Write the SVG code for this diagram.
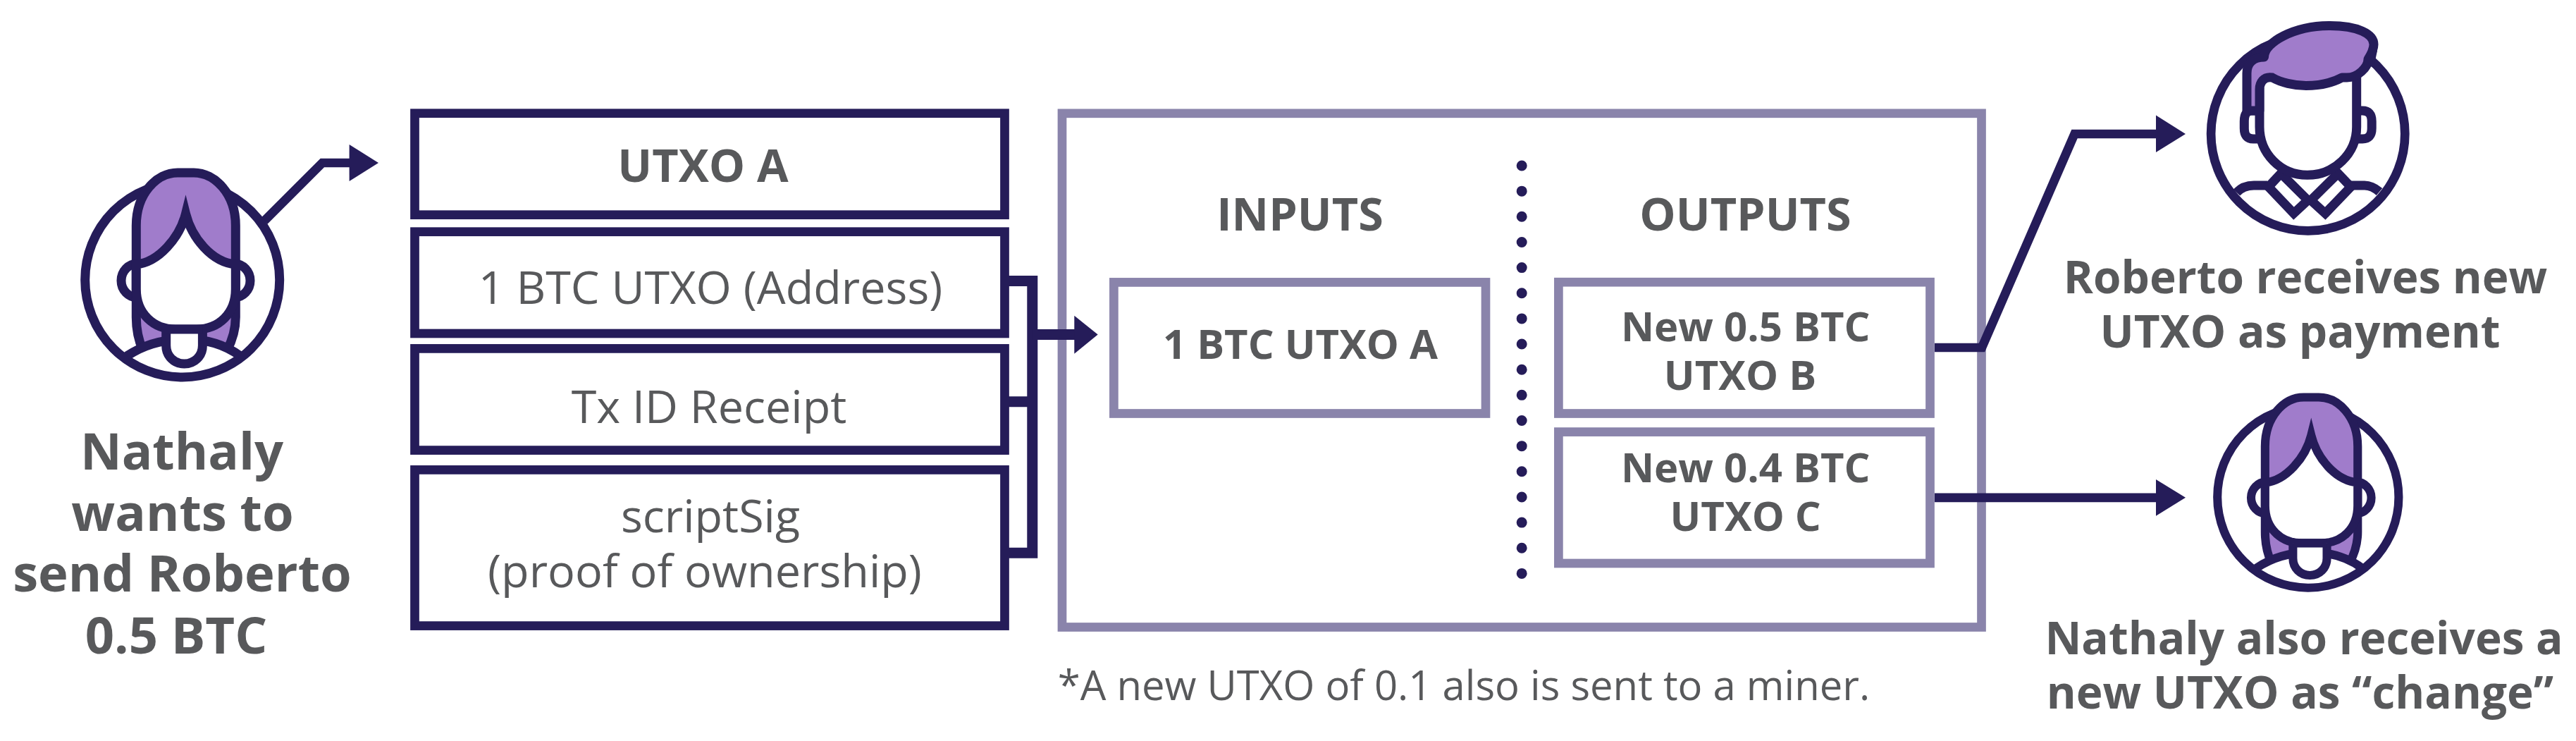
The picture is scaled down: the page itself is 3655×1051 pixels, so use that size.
<svg xmlns="http://www.w3.org/2000/svg" xmlns:xlink="http://www.w3.org/1999/xlink" width="3655" height="1051" viewBox="0 0 3655 1051">
<style>
.box{fill:#fff;stroke:#251c59;stroke-width:12.7}
.pbox{fill:#fff;stroke:#8a84ab;stroke-width:12.7}
.ln{fill:none;stroke:#251c59;stroke-width:13;stroke-miterlimit:20}
.wf{fill:#fff;stroke:#251c59;stroke-width:13;stroke-miterlimit:20}
.hair{fill:#a07ccb;stroke:none}
.conn{fill:none;stroke:#251c59;stroke-width:12.7;stroke-miterlimit:10}
.conn2{fill:none;stroke:#251c59;stroke-width:15}
.head{fill:#251c59}
text{font-family:"Open Sans","Noto Sans","Liberation Sans",sans-serif;fill:#58595b;text-anchor:middle}
.b{font-weight:700}
.r{font-weight:400}
.s72{font-size:72.3px}
.s65{font-size:64.7px}
.s64{font-size:63.9px}
.s58{font-size:58px}
</style>
<defs>
<g id="woman">
<circle cx="258.7" cy="397" r="138" fill="#fff" stroke="#251c59" stroke-width="13"/>
<ellipse cx="195" cy="398" rx="23" ry="24" class="wf"/>
<ellipse cx="332" cy="398" rx="23" ry="24" class="wf"/>
<path class="hair" d="M193.3 400V320C193.3 275 222 245 252 245H275C305 245 334.3 275 334.3 320V450C334.3 468 330 482 322 497C305 487 282 481 263 481C244 481 220 487 203 497C196 482 193.3 468 193.3 450Z"/>
<path class="ln" d="M203 497C196 482 193.3 468 193.3 450V320C193.3 275 222 245 252 245H275C305 245 334.3 275 334.3 320V450C334.3 468 330 482 322 497"/>
<path class="wf" d="M193.3 375C225 372 255 337 263.5 303C272 337 300 372 334.3 375V410C334.3 445 310 467 279 467H249C218 467 193.3 445 193.3 410Z"/>
<path class="ln" d="M180 505C205 488 235 481 263 481C291 481 318 488 341 505"/>
<path class="wf" d="M235.7 467V490C235.7 505 247 516 261.5 516C276 516 287.4 505 287.4 490V467"/>
<path class="ln" d="M235.7 467H287.4"/>
</g>
<g id="man">
<circle cx="3274.7" cy="189.7" r="137.6" fill="#fff" stroke="#251c59" stroke-width="12.7"/>
<path class="wf" d="M3205 157H3195Q3184.3 157 3184.3 172V182Q3184.3 197 3197 197H3205"/>
<path class="wf" d="M3345 157H3352Q3365.2 157 3365.2 172V182Q3365.2 197 3352 197H3345"/>
<path class="ln" d="M3173.5 273C3180 266 3188 263 3198 263H3217M3376 272C3369 266 3362 263 3355 263H3336"/>
<path class="wf" d="M3236.3 246L3274.5 284 3254.5 302.7 3218.6 265Z"/>
<path class="wf" d="M3317.4 246L3278.8 284 3299.2 302.7 3335.5 265Z"/>
<path class="wf" d="M3206 125V180C3206 218 3236 248.3 3273.8 248.3C3312 248.3 3343.7 218 3343.7 180V108"/>
<path fill="#251c59" d="M3215 84L3190 92 3195 73 3222 59Z"/>
<path fill="#251c59" d="M3373 72L3368 96 3350 88 3358 70Z"/>
<path fill="#a07ccb" stroke="#251c59" stroke-width="13" stroke-linejoin="round" d="M3188 157V104C3188 90 3197 81 3212.5 81C3212.5 60 3255 36.5 3306 36.5C3345 36.5 3368 48 3368 63C3368 70 3365 76 3360 84C3360 96 3345 110 3330 110H3323C3310 117 3292 121.5 3272 121.5C3255 121.5 3236 117 3224 110C3212 108 3206 117 3206 127V157Z"/>
</g>
</defs>

<g id="connectors">
<path class="conn" d="M375 313.3L457.3 231H500"/>
<polygon class="head" points="495.6,205 537,231 495.6,257"/>
<path class="conn2" d="M1431 398.5H1464.8V784.2H1431M1431 569.7H1464.8"/>
</g>

<g id="nathaly-sender"><use xlink:href="#woman" href="#woman"/>
<text class="b s72" x="258" y="666">Nathaly</text>
<text class="b s72" x="259" y="752.7">wants to</text>
<text class="b s72" x="258.5" y="839.3">send Roberto</text>
<text class="b s72" x="250" y="926.7">0.5 BTC</text>
</g>

<g id="utxo-a"><rect class="box" x="588.5" y="160.7" width="837" height="144"/><text class="b s65" x="997.5" y="258.3">UTXO A</text></g>
<g id="utxo-address"><rect class="box" x="588.5" y="328.7" width="837" height="144.3"/><text class="r s65" x="1008" y="431">1 BTC UTXO (Address)</text></g>
<g id="tx-id"><rect class="box" x="588.5" y="494.4" width="837" height="144.2"/><text class="r s65" x="1006" y="600">Tx ID Receipt</text></g>
<g id="script-sig"><rect class="box" x="588.5" y="666.4" width="837" height="221.2"/><text class="r s65" x="1008" y="755">scriptSig</text><text class="r s65" x="1000" y="832.7">(proof of ownership)</text></g>

<g id="transaction"><rect class="pbox" x="1507" y="160.8" width="1304.5" height="728.7"/>
<text class="b s65" x="1844.5" y="326.7">INPUTS</text>
<text class="b s65" x="2476.5" y="326.7">OUTPUTS</text>
<line x1="2159.2" y1="235" x2="2159.2" y2="815" stroke="#251c59" stroke-width="15" stroke-linecap="round" stroke-dasharray="0.01 36.14"/>
</g>
<g id="input-a"><rect class="pbox" x="1580.4" y="400.4" width="527.6" height="186.1"/><text class="b s58" x="1845" y="509">1 BTC UTXO A</text></g>
<g id="output-b"><rect class="pbox" x="2211.4" y="400.2" width="527.1" height="186.3"/><text class="b s58" x="2476.7" y="484">New 0.5 BTC</text><text class="b s58" x="2469" y="553.3">UTXO B</text></g>
<g id="output-c"><rect class="pbox" x="2211.4" y="612.6" width="527.1" height="186.4"/><text class="b s58" x="2476.7" y="684">New 0.4 BTC</text><text class="b s58" x="2476.7" y="753.3">UTXO C</text></g>
<text class="r s58" x="2077" y="992.7">*A new UTXO of 0.1 also is sent to a miner.</text>

<g id="connectors-front">
<path class="conn2" d="M1464.8 474.5H1530" stroke-width="15.5"/>
<polygon class="head" points="1524.3,447.7 1557.7,474.5 1524.3,501.7"/>
<path class="conn" d="M2745 493H2812L2943.5 190H3065"/>
<polygon class="head" points="3059,163.5 3101,190 3059,216"/>
<path class="conn" d="M2745 705.8H3065"/>
<polygon class="head" points="3059,680 3101,705.8 3059,731.7"/>
</g>

<g id="roberto"><use xlink:href="#man" href="#man"/>
<text class="b s64" x="3271" y="416">Roberto receives new</text>
<text class="b s64" x="3263.5" y="493.3">UTXO as payment</text>
</g>
<g id="nathaly-receiver"><use xlink:href="#woman" href="#woman" transform="translate(3033.7 335.1) scale(.932)"/>
<text class="b s64" x="3269" y="928.3">Nathaly also receives a</text>
<text class="b s64" x="3263.5" y="1005">new UTXO as “change”</text>
</g>
</svg>
